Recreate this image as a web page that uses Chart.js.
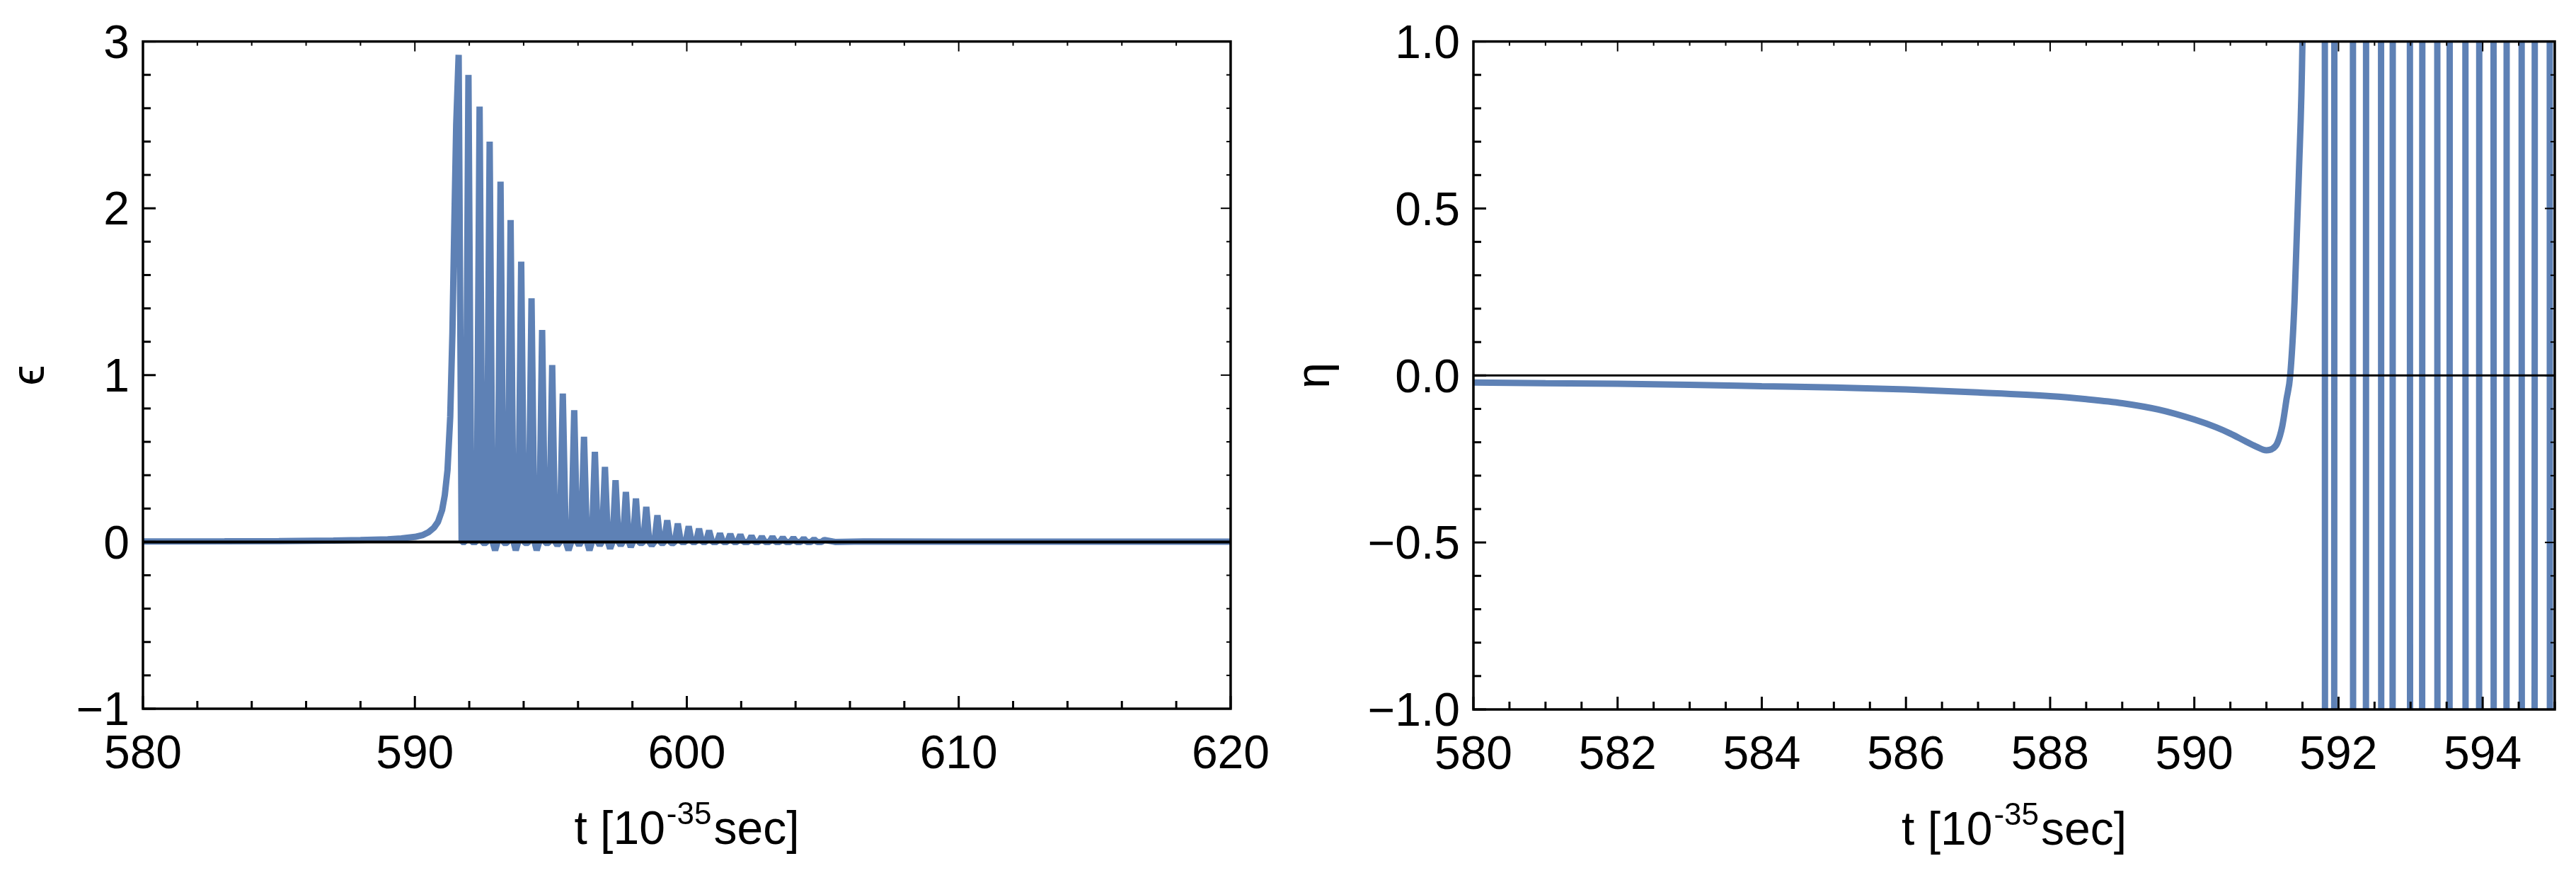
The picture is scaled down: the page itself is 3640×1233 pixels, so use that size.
<!DOCTYPE html>
<html>
<head>
<meta charset="utf-8">
<script src="https://cdn.jsdelivr.net/npm/chart.js@4.4.1/dist/chart.umd.min.js"></script>
<style>
  html, body { margin: 0; padding: 0; background: #fff; }
  #wrap { position: relative; width: 3640px; height: 1233px; }
  .panel { position: absolute; top: 0; width: 1820px; height: 1233px; }
</style>
</head>
<body>
<div id="wrap">
  <div class="panel" style="left:0"><canvas id="left" width="1820" height="1233"></canvas></div>
  <div class="panel" style="left:1820px"><canvas id="right" width="1820" height="1233"></canvas></div>
</div>
<script>
// ---- left panel: epsilon(t) ----
// slow rise before the first spike
var epsRiseT = [580, 583, 585, 587, 588, 589, 589.5, 590, 590.3, 590.5, 590.7, 590.85,
                591.0, 591.1, 591.2, 591.3, 591.38, 591.45, 591.52];
var epsRiseV = [0.003, 0.004, 0.005, 0.008, 0.011, 0.016, 0.021, 0.03, 0.042, 0.058, 0.085, 0.12,
                0.19, 0.28, 0.43, 0.75, 1.25, 1.9, 2.5];
// tops of the spikes
var epsPeakT = [591.61, 591.97, 592.38, 592.75, 593.15, 593.52, 593.91, 594.29, 594.68, 595.05,
                595.44, 595.86, 596.22, 596.62, 596.99, 597.38, 597.76, 598.13, 598.51, 598.92,
                599.28, 599.67, 600.07, 600.45, 600.82, 601.22, 601.60, 601.97, 602.38, 602.76,
                603.15, 603.53, 603.92, 604.30, 604.68, 605.06];
var epsPeakV = [2.92, 2.80, 2.61, 2.40, 2.16, 1.93, 1.68, 1.46, 1.27, 1.06,
                0.89, 0.79, 0.63, 0.54, 0.45, 0.37, 0.30, 0.26, 0.21, 0.16,
                0.13, 0.11, 0.094, 0.079, 0.068, 0.051, 0.047, 0.043, 0.036, 0.032,
                0.03, 0.026, 0.024, 0.021, 0.016, 0.012];
// bottoms between the spikes
var epsDipT = [591.79, 592.17, 592.56, 592.95, 593.33, 593.71, 594.10, 594.48, 594.86, 595.24,
               595.65, 596.04, 596.42, 596.80, 597.18, 597.57, 597.94, 598.32, 598.71, 599.10,
               599.47, 599.87, 600.26, 600.63, 601.02, 601.41, 601.78, 602.17, 602.57, 602.95,
               603.34, 603.72, 604.11, 604.49, 604.87];
var epsDipV = [0.0, 0.0, -0.01, -0.05, -0.01, -0.05, -0.01, -0.05, -0.01, -0.02,
               -0.05, -0.02, -0.05, -0.02, -0.04, -0.02, -0.03, -0.01, -0.02, -0.01,
               -0.01, 0, 0, 0, 0, 0, 0, 0, 0, 0,
               0, 0, 0, 0, 0];
var epsTailT = [605.45, 606.5, 610, 620];
var epsTailV = [0.0, 0.003, 0.002, 0.002];
// spikes are narrow: each one leaves / returns to the base level this far from its top
var epsSpikeHalfWidth = 0.11;
var epsFootLevel = 0.0;

// ---- right panel: eta(t) ----
var etaSmoothT = [580, 581, 582, 583, 584, 585, 586, 587, 588, 588.5, 589, 589.5, 590, 590.3,
                  590.5, 590.7, 590.85, 591.0, 591.08, 591.15, 591.22, 591.28, 591.33, 591.39,
                  591.45, 591.50, 591.53];
var etaSmoothV = [-0.021, -0.023, -0.025, -0.028, -0.032, -0.036, -0.042, -0.051, -0.062, -0.071,
                  -0.083, -0.102, -0.132, -0.155, -0.174, -0.196, -0.212, -0.224, -0.220, -0.203,
                  -0.152, -0.07, 0.0, 0.22, 0.6, 1.0, 1.6];
// times where eta sweeps through the whole window (-1 = falls, +1 = rises)
var etaJumpT = [591.81, 591.94, 592.20, 592.38, 592.59, 592.75, 592.99, 593.16, 593.37,
                593.54, 593.76, 593.95, 594.15, 594.33, 594.54, 594.72, 594.93];
var etaJumpDir = [-1, 1, -1, 1, -1, 1, -1, 1, -1, 1, -1, 1, -1, 1, -1, 1, -1];
var etaOut = 1.6;   // value outside the plotted range

var FONT = '"Liberation Sans", Arial, Helvetica, "DejaVu Sans", sans-serif';
var BLUE = '#5E81B5';

function pairs(ts, vs) {
  return ts.map(function (t, i) { return {x: t, y: vs[i]}; });
}

var epsData = pairs(epsRiseT, epsRiseV)
  .concat(pairs(epsPeakT, epsPeakV), pairs(epsDipT, epsDipV), pairs(epsTailT, epsTailV));
epsPeakT.forEach(function (t, i) {
  if (i > 0) epsData.push({x: t - epsSpikeHalfWidth, y: epsFootLevel});
  if (i < epsPeakT.length - 1) epsData.push({x: t + epsSpikeHalfWidth, y: epsFootLevel});
});
epsData.sort(function (a, b) { return a.x - b.x; });

var etaData = pairs(etaSmoothT, etaSmoothV);
etaJumpT.forEach(function (t, i) {
  var d = etaJumpDir[i];
  etaData.push({x: t, y: -d * etaOut});
  etaData.push({x: t + 0.003, y: d * etaOut});
});
etaData.push({x: 595, y: -etaOut});

function tickFmt(decimals, step) {
  return function (v) {
    var r = Math.round(v / step);
    if (Math.abs(v - r * step) > 1e-6) return '';
    var val = r * step;
    var s = Math.abs(val).toFixed(decimals);
    return val < -1e-9 ? '\u2212' + s : s;
  };
}

// Mathematica-style frame: inward ticks on all sides, axis line at 0, x title with superscript
var framePlugin = {
  id: 'frame',
  afterDatasetsDraw: function (chart, args, opts) {
    var ctx = chart.ctx, a = chart.chartArea, x = chart.scales.x, y = chart.scales.y;
    ctx.save();
    ctx.strokeStyle = '#000';
    ctx.lineCap = 'butt';

    var y0 = y.getPixelForValue(0);
    ctx.lineWidth = opts.zeroWidth;
    ctx.beginPath(); ctx.moveTo(a.left, y0); ctx.lineTo(a.right, y0); ctx.stroke();

    x.ticks.forEach(function (t) {
      var px = x.getPixelForValue(t.value), major = t.label !== '';
      ctx.lineWidth = 3;
      ctx.beginPath(); ctx.moveTo(px, a.bottom); ctx.lineTo(px, a.bottom - (major ? 18 : 11)); ctx.stroke();
      ctx.lineWidth = 2;
      ctx.beginPath(); ctx.moveTo(px, a.top); ctx.lineTo(px, a.top + (major ? 14 : 6)); ctx.stroke();
    });
    y.ticks.forEach(function (t) {
      var py = y.getPixelForValue(t.value), major = t.label !== '';
      ctx.lineWidth = 3;
      ctx.beginPath(); ctx.moveTo(a.left, py); ctx.lineTo(a.left + (major ? 18 : 11), py); ctx.stroke();
      ctx.lineWidth = 2;
      ctx.beginPath(); ctx.moveTo(a.right, py); ctx.lineTo(a.right - (major ? 14 : 6), py); ctx.stroke();
    });

    ctx.lineWidth = 3.5;
    ctx.strokeRect(a.left, a.top, a.right - a.left, a.bottom - a.top);
    ctx.restore();
  },
  afterDraw: function (chart) {
    var ctx = chart.ctx, a = chart.chartArea;
    // text, font, raise, gap after
    var parts = [['t [10', '66px ' + FONT, 0, 2], ['-35', '44px ' + FONT, -28, 3], ['sec]', '66px ' + FONT, 0, 0]];
    ctx.save();
    ctx.fillStyle = '#000';
    ctx.textBaseline = 'alphabetic';
    ctx.textAlign = 'left';
    var total = 0;
    parts.forEach(function (p) { ctx.font = p[1]; p.push(ctx.measureText(p[0]).width); total += p[4] + p[3]; });
    var cx = (a.left + a.right) / 2 - total / 2, base = a.bottom + 191;
    parts.forEach(function (p) {
      ctx.font = p[1];
      ctx.fillText(p[0], cx, base + p[2]);
      cx += p[4] + p[3];
    });
    ctx.restore();
  }
};

function makeChart(id, data, c) {
  return new Chart(document.getElementById(id), {
    type: 'line',
    data: {
      datasets: [{
        data: data,
        borderColor: BLUE,
        borderWidth: 9,
        borderJoinStyle: 'bevel',
        pointRadius: 0,
        tension: 0,
        cubicInterpolationMode: c.interp,
        fill: false
      }]
    },
    options: {
      responsive: false,
      animation: false,
      events: [],
      layout: { padding: c.padding },
      plugins: { legend: { display: false }, tooltip: { enabled: false }, frame: { zeroWidth: c.zeroWidth } },
      scales: {
        x: {
          type: 'linear', min: c.xMin, max: c.xMax,
          ticks: { stepSize: c.xMinor, autoSkip: false, maxRotation: 0, color: '#000', padding: 26,
                   font: { size: 66, family: FONT }, callback: tickFmt(0, c.xMajor) },
          grid: { display: false, drawTicks: false },
          border: { display: false },
          afterFit: function (s) { s.height = c.xHeight; }
        },
        y: {
          type: 'linear', min: c.yMin, max: c.yMax,
          ticks: { stepSize: c.yMinor, autoSkip: false, color: '#000', padding: 19, labelOffset: 5,
                   font: { size: 66, family: FONT }, callback: tickFmt(c.yDec, c.yMajor) },
          grid: { display: false, drawTicks: false },
          border: { display: false },
          title: { display: true, text: c.yTitle, color: '#000',
                   font: { size: 66, family: FONT }, padding: { top: c.titlePad, bottom: 0 } },
          afterFit: function (s) { s.width = c.yWidth; }
        }
      }
    },
    plugins: [framePlugin]
  });
}

makeChart('left', epsData, {
  xMin: 580, xMax: 620, xMinor: 2, xMajor: 10,
  yMin: -1, yMax: 3, yMinor: 0.2, yMajor: 1, yDec: 0,
  yTitle: '\u03F5', titlePad: 4, zeroWidth: 4, interp: 'default',
  padding: { left: 0, right: 73, top: 44, bottom: 0 }, xHeight: 232, yWidth: 202
});

makeChart('right', etaData, {
  xMin: 580, xMax: 595, xMinor: 0.5, xMajor: 2,
  yMin: -1, yMax: 1, yMinor: 0.1, yMajor: 0.5, yDec: 1,
  yTitle: '\u03B7', titlePad: 0, zeroWidth: 3, interp: 'monotone',
  padding: { left: 0, right: 30, top: 54, bottom: 0 }, xHeight: 231, yWidth: 262
});
</script>
</body>
</html>
